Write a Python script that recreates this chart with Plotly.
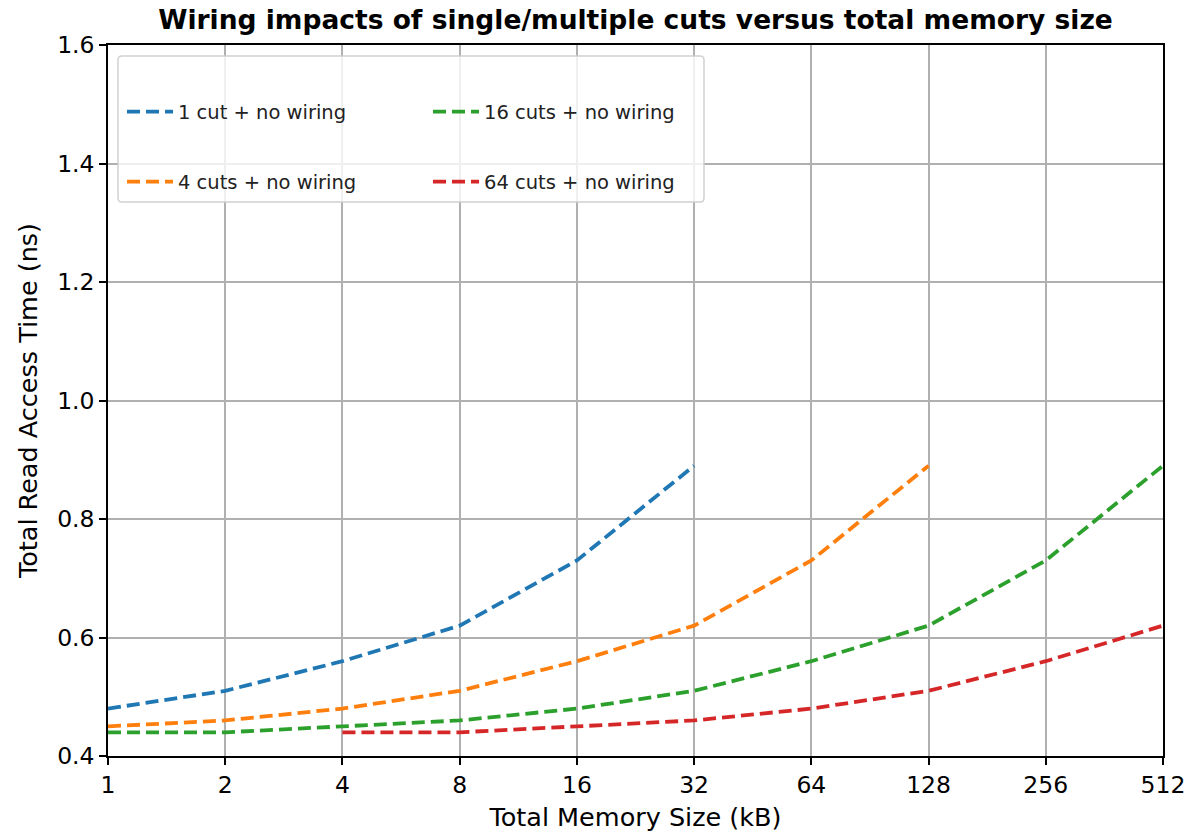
import plotly.graph_objects as go
import math

sizes = [1, 2, 4, 8, 16, 32, 64, 128, 256, 512]
tick_labels = ["1", "2", "4", "8", "16", "32", "64", "128", "256", "512"]

x_1cut = [1, 2, 4, 8, 16, 32]
y_1cut = [0.48, 0.51, 0.56, 0.62, 0.73, 0.89]

x_4cuts = [1, 2, 4, 8, 16, 32, 64, 128]
y_4cuts = [0.45, 0.46, 0.48, 0.51, 0.56, 0.62, 0.73, 0.89]

x_16cuts = [1, 2, 4, 8, 16, 32, 64, 128, 256, 512]
y_16cuts = [0.44, 0.44, 0.45, 0.46, 0.48, 0.51, 0.56, 0.62, 0.73, 0.89]

x_64cuts = [4, 8, 16, 32, 64, 128, 256, 512]
y_64cuts = [0.44, 0.44, 0.45, 0.46, 0.48, 0.51, 0.56, 0.62]

series = [
    ("1 cut + no wiring", x_1cut, y_1cut, "#1f77b4", "legend"),
    ("4 cuts + no wiring", x_4cuts, y_4cuts, "#ff7f0e", "legend2"),
    ("16 cuts + no wiring", x_16cuts, y_16cuts, "#2ca02c", "legend3"),
    ("64 cuts + no wiring", x_64cuts, y_64cuts, "#d62728", "legend4"),
]

FONT = "DejaVu Sans"
W, H = 1192, 833
PAGE_L, PAGE_R, PAGE_T, PAGE_B = 108, 1163, 45, 756
ML, MT = PAGE_L, PAGE_T
MR, MB = W - PAGE_R, H - PAGE_B
PW, PH = W - ML - MR, H - MT - MB

def px_x(p):
    return (p - PAGE_L) / PW

def px_y(p):
    return (PAGE_B - p) / PH

fig = go.Figure()
for name, xs, ys, color, leg in series:
    fig.add_trace(go.Scatter(
        x=xs, y=ys, mode="lines", name=name, legend=leg, showlegend=True,
        line=dict(color=color, width=3.8, dash="13px,6px"),
    ))

legend_common = dict(
    xanchor="left", yanchor="middle", bgcolor="rgba(0,0,0,0)",
    borderwidth=0, font=dict(family=FONT, size=19.5, color="#222"),
    itemwidth=46, visible=True,
)
col1, col2 = px_x(122), px_x(428)
row1, row2 = px_y(112), px_y(182)

# legend frame
fx0, fx1 = px_x(118), px_x(704)
fy0, fy1 = px_y(202), px_y(56)
rx, ry = 4 / PW, 4 / PH
path = (f"M{fx0+rx},{fy0} L{fx1-rx},{fy0} Q{fx1},{fy0} {fx1},{fy0+ry} "
        f"L{fx1},{fy1-ry} Q{fx1},{fy1} {fx1-rx},{fy1} "
        f"L{fx0+rx},{fy1} Q{fx0},{fy1} {fx0},{fy1-ry} "
        f"L{fx0},{fy0+ry} Q{fx0},{fy0} {fx0+rx},{fy0} Z")

axis_common = dict(
    showline=True, linecolor="black", linewidth=1.5, mirror=True,
    ticks="outside", ticklen=7, tickwidth=1.5, tickcolor="black",
    showgrid=True, gridcolor="#b0b0b0", gridwidth=1.8,
    zeroline=False, automargin=False,
    tickfont=dict(family=FONT, size=23.5),
)

fig.update_layout(
    width=W, height=H, showlegend=True,
    margin=dict(l=ML, r=MR, t=MT, b=MB),
    paper_bgcolor="white", plot_bgcolor="white",
    font=dict(family=FONT, size=23, color="black"),
    title=dict(
        text="<b>Wiring impacts of single/multiple cuts versus total memory size</b>",
        x=(ML + PW / 2) / W, xanchor="center", y=1 - 20 / H, yanchor="middle",
        font=dict(family=FONT, size=26.5, color="black"),
    ),
    xaxis=dict(
        type="log", range=[math.log10(1), math.log10(512)],
        tickvals=sizes, ticktext=tick_labels,
        title=dict(text="Total Memory Size (kB)", standoff=10,
                   font=dict(family=FONT, size=25.5)),
        **axis_common,
    ),
    yaxis=dict(
        range=[0.4, 1.6], tickvals=[0.4, 0.6, 0.8, 1.0, 1.2, 1.4, 1.6],
        tickformat=".1f",
        title=dict(text="Total Read Access Time (ns)", standoff=12,
                   font=dict(family=FONT, size=25.5)),
        **axis_common,
    ),
    legend=dict(x=col1, y=row1, **legend_common),
    legend2=dict(x=col1, y=row2, **legend_common),
    legend3=dict(x=col2, y=row1, **legend_common),
    legend4=dict(x=col2, y=row2, **legend_common),
    shapes=[dict(type="path", path=path, xref="paper", yref="paper",
                 fillcolor="rgba(255,255,255,0.8)",
                 line=dict(color="rgba(204,204,204,0.9)", width=1.5),
                 layer="above")],
)

fig.write_html(
    "out.html",
    config={"displayModeBar": False},
    post_script="document.body.style.margin='0px';document.body.style.overflow='hidden';",
)
